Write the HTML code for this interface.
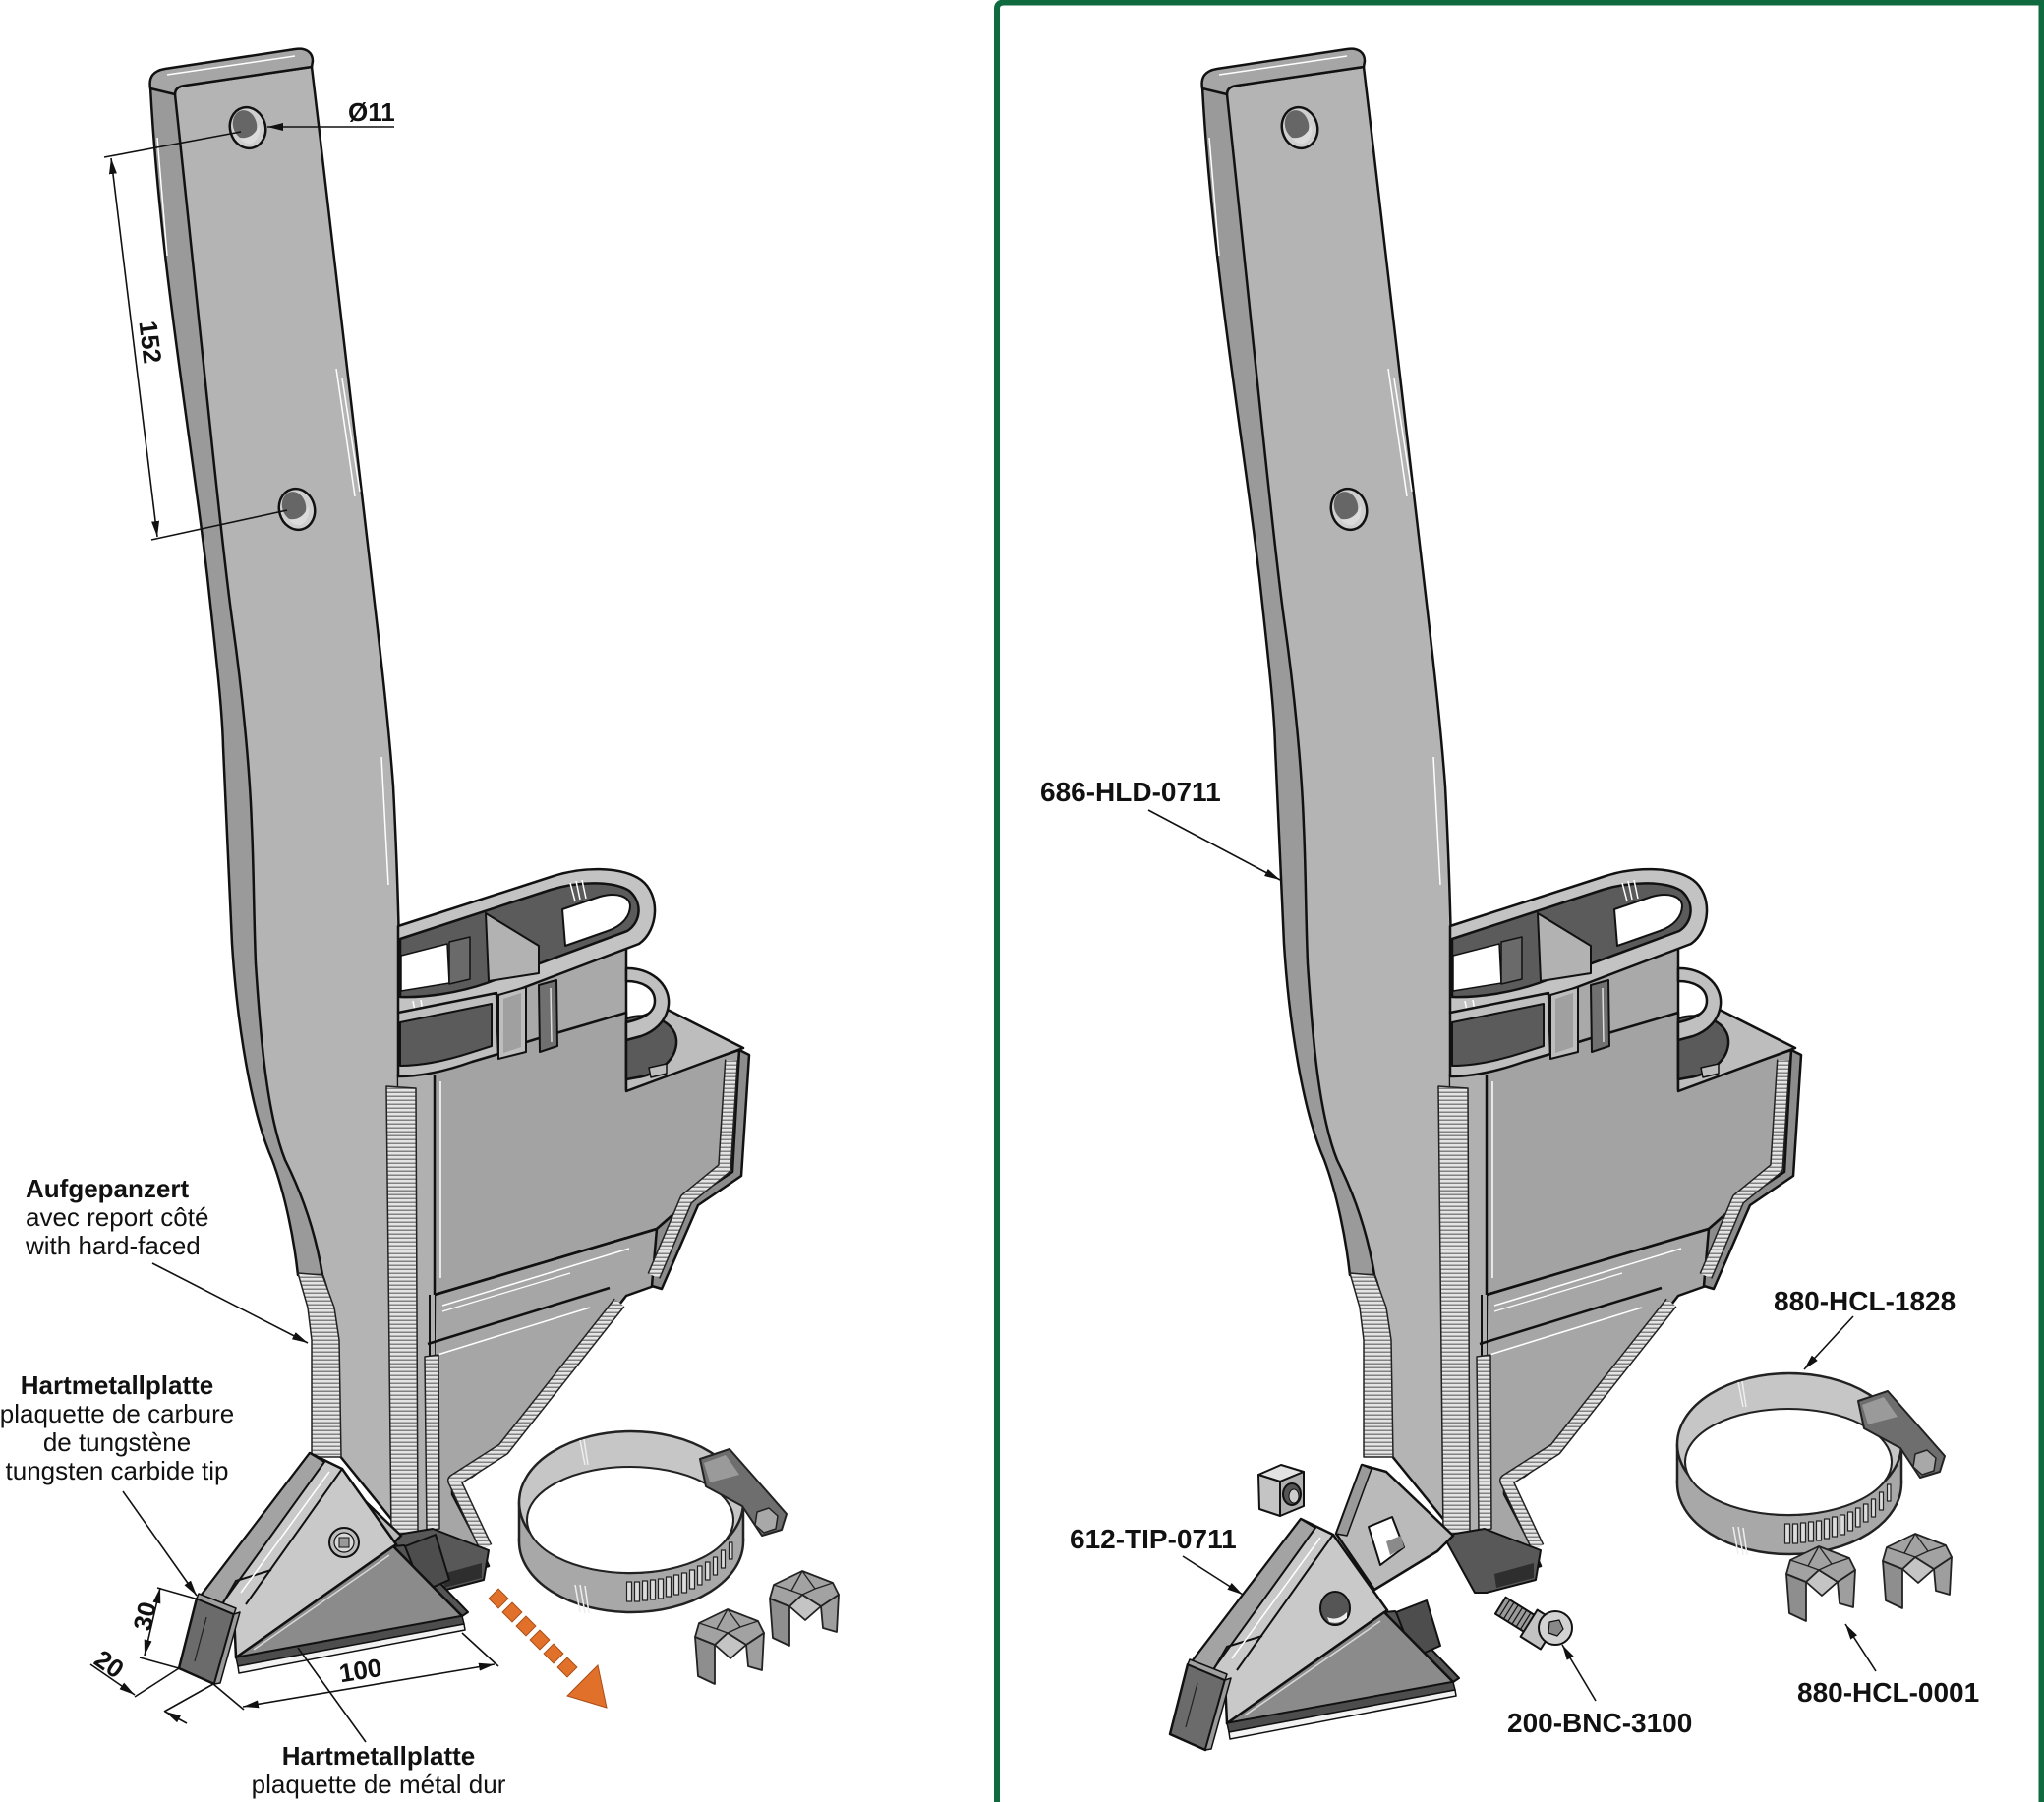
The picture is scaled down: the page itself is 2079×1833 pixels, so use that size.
<!DOCTYPE html>
<html><head><meta charset="utf-8"><title>Diagram</title>
<style>
html,body{margin:0;padding:0;background:#fff;}
svg{display:block;}
text{font-family:"Liberation Sans",Arial,sans-serif;fill:#111;}
.b{font-weight:bold;}
</style></head>
<body>
<svg xmlns="http://www.w3.org/2000/svg" width="2079" height="1833" viewBox="0 0 2079 1833">
<defs>
  <pattern id="wp" width="8" height="4" patternUnits="userSpaceOnUse">
    <rect width="8" height="4" fill="#e4e4e4"/>
    <rect y="2.6" width="8" height="1.2" fill="#6a6a6a"/>
  </pattern>
  <marker id="ar" markerUnits="userSpaceOnUse" markerWidth="16" markerHeight="8" viewBox="0 0 16 8" refX="16" refY="4" orient="auto-start-reverse">
    <path d="M0,0 L16,4 L0,8 Z" fill="#111"/>
  </marker>

  <!-- shank + hopper unit (left coordinates) -->
  <g id="unit" stroke-linejoin="round">
    <path d="M153,88 C162,260 195,450 211,587 C220,670 226,720 227,760 C231,840 233,900 236,960 C241,1040 255,1130 277,1180 C290,1215 299,1260 303,1297 L330,1297 L300,100 Z" fill="#9a9a9a" stroke="#111" stroke-width="2.5"/>
    <path d="M178,96 Q178,88 188,87 L317,68 L325,135 C335,220 347,320 371,528 C384,640 394,720 400,800 C404,880 405,920 407,1000 L410,1560 L345,1480 L343,1363 C338,1330 333,1310 328,1297 C322,1260 310,1220 290,1180 C270,1130 264,1040 260,980 C258,930 258,880 256,840 C254,780 246,700 236,630 C225,550 200,300 178,96 Z" fill="#b4b4b4" stroke="#111" stroke-width="2.5"/>
    <path d="M153,90 C151,78 156,72 168,70 L300,50 C312,48 318,54 318,62 L317,68 L188,87 C180,88 178,92 178,96 Z" fill="#a6a6a6" stroke="#111" stroke-width="2.5"/>
    <line x1="170" y1="76" x2="300" y2="57" stroke="#fff" stroke-width="1.5"/>
    <path d="M342,375 L361,505 M348,385 L366,500 M388,770 L395,900 M160,140 L170,260 M205,600 L215,700" stroke="#fff" stroke-width="1.5" fill="none"/>
    <ellipse cx="252" cy="130" rx="18" ry="21" transform="rotate(-15 252 130)" fill="#cfcfcf" stroke="#111" stroke-width="2.5"/>
    <ellipse cx="249" cy="127" rx="12" ry="15" transform="rotate(-15 249 127)" fill="#666"/>
    <path d="M244,140 Q258,142 264,126 Q266,140 256,146 Q248,147 244,140 Z" fill="#dcdcdc"/>
    <ellipse cx="302" cy="518" rx="18" ry="21" transform="rotate(-15 302 518)" fill="#cfcfcf" stroke="#111" stroke-width="2.5"/>
    <ellipse cx="299" cy="515" rx="12" ry="15" transform="rotate(-15 299 515)" fill="#666"/>
    <path d="M294,528 Q308,530 314,514 Q316,528 306,534 Q298,535 294,528 Z" fill="#dcdcdc"/>

    <!-- hopper -->
    <polygon points="455,1000 637,945 637,1040 455,1090" fill="#a9a9a9" stroke="#111" stroke-width="2.5"/>
    <polygon points="405,1093 480,1077 545,1057 637,1030 637,1108 752,1068 745,1192 700,1222 668,1250 442,1317 405,1320" fill="#a3a3a3" stroke="#111" stroke-width="2.5"/>
    <polygon points="442,1317 668,1250 668,1307 637,1318 513,1477 480,1502 460,1508 460,1520 490,1577 497,1593 460,1602 440,1602" fill="#a6a6a6" stroke="#111" stroke-width="2.5"/>
    <polygon points="405,1093 442,1093 442,1602 410,1560" fill="#b0b0b0"/>
    <line x1="442" y1="1093" x2="442" y2="1317" stroke="#111" stroke-width="2.5"/>
    <line x1="437" y1="1317" x2="437" y2="1380" stroke="#111" stroke-width="2"/>
    <line x1="448" y1="1100" x2="448" y2="1300" stroke="#fff" stroke-width="1.5"/>
    <line x1="442" y1="1317" x2="668" y2="1250" stroke="#111" stroke-width="2.5"/>
    <line x1="435" y1="1367" x2="620" y2="1310" stroke="#111" stroke-width="2.5"/>
    <line x1="450" y1="1328" x2="640" y2="1270" stroke="#fff" stroke-width="1.5"/>
    <line x1="450" y1="1334" x2="580" y2="1295" stroke="#fff" stroke-width="1.2"/>
    <line x1="445" y1="1378" x2="600" y2="1330" stroke="#fff" stroke-width="1.5"/>
    <polygon points="637,1040 675,1025 756,1066 637,1110" fill="#bdbdbd" stroke="#111" stroke-width="2.5"/>
    <path d="M637,1036 C662,1028 690,1040 688,1062 C686,1082 664,1094 648,1096 L637,1098 Z" fill="#5a5a5a" stroke="#111" stroke-width="2.5"/>
    <path d="M637,985 C660,984 682,1000 680,1022 C678,1040 664,1050 652,1054 L637,1058 L637,1040 C655,1036 666,1030 666,1018 C666,1004 652,998 637,998 Z" fill="#c0c0c0" stroke="#111" stroke-width="2.5"/>
    <polygon points="660,1086 678,1082 678,1092 662,1096" fill="#bdbdbd" stroke="#111" stroke-width="1.5"/>
    <polygon points="752,1068 762,1073 754,1196 710,1226 673,1311 663,1308 668,1250 700,1222 745,1192" fill="#8c8c8c" stroke="#111" stroke-width="2.5"/>
    <path d="M405,942 L560,892 C592,881 632,881 652,895 C672,910 670,946 650,960 L500,1017 C468,1028 432,1032 405,1030 Z" fill="#c3c3c3" stroke="#111" stroke-width="2.5"/>
    <path d="M407,955 L560,905 C590,896 624,896 640,906 C654,918 652,938 638,947 L495,1000 C466,1010 432,1015 407,1014 Z" fill="#5b5b5b" stroke="#111" stroke-width="2.5"/>
    <path d="M572,925 L610,912 C628,907 640,912 641,921 C641,933 632,942 618,947 L575,962 Z" fill="#fff" stroke="#111" stroke-width="2"/>
    <polygon points="408,972 455,960 457,1000 408,1008" fill="#fff" stroke="#111" stroke-width="1.5"/>
    <polygon points="457,958 478,953 478,996 457,1001" fill="#6a6a6a" stroke="#111" stroke-width="1.5"/>
    <polygon points="494,929 548,962 548,990 497,998" fill="#b2b2b2" stroke="#111" stroke-width="2"/>
    <path d="M580,898 L585,917 M586,896 L590,915 M592,895 L596,914 M420,1018 L422,1028 M428,1017 L430,1028" stroke="#fff" stroke-width="1.5"/>
    <path d="M405,1030 L505,1010 L507,1072 L480,1080 C452,1090 428,1095 405,1095 Z" fill="#bfbfbf" stroke="#111" stroke-width="2.5"/>
    <path d="M407,1040 L500,1021 L500,1064 L478,1071 C450,1080 428,1084 407,1084 Z" fill="#5b5b5b" stroke="#111" stroke-width="2"/>
    <polygon points="507,1012 535,1004 535,1070 507,1077" fill="#bdbdbd" stroke="#111" stroke-width="2"/>
    <polygon points="512,1016 530,1010 530,1065 512,1071" fill="#a0a0a0"/>
    <polygon points="548,1002 566,997 567,1064 549,1070" fill="#707070" stroke="#111" stroke-width="2"/>
    <line x1="560" y1="1005" x2="561" y2="1060" stroke="#ddd" stroke-width="1.5"/>

    <!-- welds -->
    <polygon points="303,1295 328,1297 340,1330 345,1363 347,1482 317,1482 317,1363 313,1330" fill="url(#wp)" stroke="#222" stroke-width="1.5"/>
    <polygon points="393,1105 423,1107 425,1558 398,1562" fill="url(#wp)" stroke="#222" stroke-width="1.5"/>
    <polygon points="432,1380 446,1378 447,1555 434,1558" fill="url(#wp)" stroke="#222" stroke-width="1.5"/>
    <polyline points="744,1078 737,1188 698,1220 665,1298" fill="none" stroke="#222" stroke-width="14" stroke-linejoin="round"/>
    <polyline points="744,1078 737,1188 698,1220 665,1298" fill="none" stroke="url(#wp)" stroke-width="11" stroke-linejoin="round"/>
    <polyline points="630,1325 512,1474 462,1506 494,1574" fill="none" stroke="#222" stroke-width="14" stroke-linejoin="round"/>
    <polyline points="630,1325 512,1474 462,1506 494,1574" fill="none" stroke="url(#wp)" stroke-width="11" stroke-linejoin="round"/>

    <polygon points="398,1562 440,1555 497,1577 492,1607 442,1620 430,1620" fill="#585858" stroke="#111" stroke-width="2"/>
    <polygon points="450,1601 490,1590 490,1605 452,1615" fill="#2e2e2e"/>
    <polygon points="315,1490 340,1497 408,1562 392,1578 328,1617 289,1560" fill="#bababa" stroke="#111" stroke-width="2.5"/>
    <polygon points="289,1560 315,1490 325,1494 300,1562" fill="#9a9a9a" stroke="#111" stroke-width="1.5"/>
    <polygon points="322,1553 346,1543 358,1574 334,1592" fill="#fff" stroke="#111" stroke-width="2"/>
    <polygon points="340,1568 355,1562 358,1574 344,1582" fill="#8a8a8a"/>
  </g>

  <!-- tip -->
  <g id="tip" stroke-linejoin="round">
    <polygon points="400,1573 411,1572 476,1640 470,1644" fill="#555" stroke="#111" stroke-width="2"/>
    <polygon points="315,1478 348,1494 403,1571 240,1686 238,1642 202,1626" fill="#c9c9c9" stroke="#111" stroke-width="2.5"/>
    <polygon points="315,1478 330,1487 224,1634 202,1626" fill="#a3a3a3" stroke="#111" stroke-width="2"/>
    <polyline points="226,1632 240,1608 276,1597" fill="none" stroke="#111" stroke-width="2"/>
    <line x1="348" y1="1494" x2="250" y2="1632" stroke="#111" stroke-width="2"/>
    <line x1="335" y1="1497" x2="245" y2="1620" stroke="#fff" stroke-width="1.5"/>
    <polygon points="412,1573 443,1561 457,1607 430,1619" fill="#4d4d4d" stroke="#111" stroke-width="2"/>
    <polygon points="240,1686 400,1573 470,1644" fill="#8b8b8b" stroke="#111" stroke-width="2.5"/>
    <line x1="258" y1="1678" x2="396" y2="1582" stroke="#d8d8d8" stroke-width="1.5"/>
    <polygon points="240,1686 470,1644 472,1652 242,1695" fill="#4d4d4d" stroke="#111" stroke-width="1.5"/>
    <polygon points="242,1695 472,1652 473,1658 243,1702" fill="#f2f2f2" stroke="#111" stroke-width="1.5"/>
    <polygon points="200,1626 238,1642 218,1713 182,1697" fill="#6b6b6b" stroke="#111" stroke-width="2.5"/>
    <polygon points="202,1621 240,1636 238,1642 200,1626" fill="#a0a0a0" stroke="#111" stroke-width="1.5"/>
    <polygon points="238,1642 244,1640 224,1712 218,1713" fill="#9a9a9a" stroke="#111" stroke-width="1.5"/>
    <line x1="210" y1="1645" x2="198" y2="1690" stroke="#222" stroke-width="1.2"/>
  </g>

  <!-- hose clamp -->
  <g id="clamp" stroke-linejoin="round">
    <ellipse cx="642" cy="1568" rx="114" ry="72" fill="#a8a8a8" stroke="#222" stroke-width="2.5"/>
    <rect x="528" y="1528" width="228" height="40" fill="#a8a8a8"/>
    <line x1="528" y1="1528" x2="528" y2="1568" stroke="#222" stroke-width="2.5"/>
    <line x1="756" y1="1528" x2="756" y2="1568" stroke="#222" stroke-width="2.5"/>
    <ellipse cx="642" cy="1528" rx="114" ry="72" fill="#c6c6c6" stroke="#222" stroke-width="2.5"/>
    <ellipse cx="641" cy="1546" rx="105" ry="54" fill="#fff" stroke="#222" stroke-width="2"/>
    <path d="M585,1612 L590,1640 M590,1612 L595,1641 M595,1613 L599,1641 M590,1465 L595,1490 M594,1464 L598,1490" stroke="#eee" stroke-width="1.5"/>
    <g fill="#dcdcdc" stroke="#222" stroke-width="1.2">
      <rect x="637.5" y="1609" width="5" height="20"/>
      <rect x="645.5" y="1609" width="5" height="20"/>
      <rect x="653.5" y="1608" width="5" height="20"/>
      <rect x="661.5" y="1607" width="5" height="20"/>
      <rect x="669.5" y="1606" width="5" height="20"/>
      <rect x="677.5" y="1604" width="5" height="20"/>
      <rect x="685.5" y="1602" width="5" height="20"/>
      <rect x="693.5" y="1600" width="5" height="20"/>
      <rect x="701.5" y="1597" width="5" height="19"/>
      <rect x="709.5" y="1593" width="4.5" height="19"/>
      <rect x="717.5" y="1589" width="4.5" height="18"/>
      <rect x="725.5" y="1584" width="4" height="18"/>
      <rect x="733.5" y="1577" width="4" height="18"/>
      <rect x="741.5" y="1569" width="3.5" height="17"/>
    </g>
    <polygon points="712,1484 742,1474 800,1540 795,1556 775,1562 755,1532 718,1512" fill="#6e6e6e" stroke="#222" stroke-width="2"/>
    <polygon points="716,1488 738,1480 752,1500 722,1508" fill="#9a9a9a"/>
    <polygon points="770,1538 782,1534 791,1542 789,1555 777,1559 768,1551" fill="#a8a8a8" stroke="#222" stroke-width="1.5"/>
  </g>

  <!-- clip -->
  <g id="clip" stroke="#222" stroke-width="1.8" stroke-linejoin="round">
    <polygon points="0,28 20,36 20,76 3,68" fill="#8e8e8e"/>
    <polygon points="52,36 70,24 68,62 54,58" fill="#9e9e9e"/>
    <polygon points="20,36 33,24 52,36 36,50" fill="#c4c4c4"/>
    <polygon points="0,28 4,14 33,0 64,12 70,24 52,36 33,24 20,36" fill="#a2a2a2"/>
    <polyline points="4,14 22,20 33,0 46,18 64,12" fill="none" stroke-width="1.3"/>
    <line x1="22" y1="20" x2="33" y2="24" stroke-width="1.3"/>
    <line x1="46" y1="18" x2="33" y2="24" stroke-width="1.3"/>
  </g>
</defs>

<path d="M1014,1833 L1014,9 Q1014,2.5 1021,2.5 L2076.5,2.5 L2076.5,1833" fill="none" stroke="#0f6b3f" stroke-width="6"/>

<!-- LEFT DRAWING -->
<use href="#unit"/>
<use href="#tip"/>
<circle cx="350" cy="1569" r="15" fill="#bdbdbd" stroke="#111" stroke-width="2"/>
<circle cx="350" cy="1569" r="10" fill="#d8d8d8" stroke="#111" stroke-width="1.2"/>
<polygon points="345,1564 355,1564 355,1574 345,1574" fill="#999" stroke="#111" stroke-width="1"/>
<use href="#clamp"/>
<use href="#clip" transform="translate(707,1637)"/>
<use href="#clip" transform="translate(783,1598)"/>

<!-- orange arrow -->
<g fill="#e0702a" stroke="#a84e15" stroke-width="1">
  <rect x="500" y="1619" width="14" height="14" transform="rotate(45 507 1626)"/>
  <rect x="514" y="1633" width="14" height="14" transform="rotate(45 521 1640)"/>
  <rect x="528" y="1647" width="14" height="14" transform="rotate(45 535 1654)"/>
  <rect x="542" y="1661" width="14" height="14" transform="rotate(45 549 1668)"/>
  <rect x="556" y="1675" width="14" height="14" transform="rotate(45 563 1682)"/>
  <rect x="570" y="1689" width="14" height="14" transform="rotate(45 577 1696)"/>
  <polygon points="608,1694 577,1725 617,1737"/>
</g>

<!-- dimensions left -->
<g stroke="#111" stroke-width="1.6" fill="none">
  <line x1="272" y1="129" x2="401" y2="129" marker-start="url(#ar)"/>
  <line x1="106" y1="160" x2="245" y2="134"/>
  <line x1="154" y1="549" x2="292" y2="519"/>
  <line x1="113" y1="161" x2="160" y2="546" marker-start="url(#ar)" marker-end="url(#ar)"/>
  <line x1="160" y1="1615" x2="202" y2="1627"/>
  <line x1="142" y1="1686" x2="182" y2="1697"/>
  <line x1="163" y1="1615" x2="147" y2="1684" marker-start="url(#ar)" marker-end="url(#ar)"/>
  <line x1="137" y1="1726" x2="182" y2="1697"/>
  <line x1="167" y1="1741" x2="217" y2="1713"/>
  <line x1="92" y1="1693" x2="137" y2="1724" marker-end="url(#ar)"/>
  <line x1="190" y1="1753" x2="168" y2="1741" marker-end="url(#ar)"/>
  <line x1="217" y1="1713" x2="248" y2="1739"/>
  <line x1="470" y1="1661" x2="507" y2="1695"/>
  <line x1="247" y1="1736" x2="503" y2="1693" marker-start="url(#ar)" marker-end="url(#ar)"/>
  <line x1="155" y1="1285" x2="313" y2="1366" marker-end="url(#ar)"/>
  <line x1="125" y1="1517" x2="200" y2="1623" marker-end="url(#ar)"/>
  <line x1="372" y1="1772" x2="303" y2="1676"/>
</g>

<text class="b" x="354" y="123" font-size="26">Ø11</text>
<text class="b" font-size="26" text-anchor="middle" transform="translate(144,349) rotate(83)" x="0" y="0">152</text>
<text class="b" font-size="26" text-anchor="middle" transform="translate(156,1646) rotate(-77)" x="0" y="0">30</text>
<text class="b" font-size="26" text-anchor="middle" transform="translate(106,1700) rotate(35)" x="0" y="0">20</text>
<text class="b" font-size="26" text-anchor="middle" transform="translate(368,1708) rotate(-9)" x="0" y="0">100</text>

<text class="b" x="26" y="1218" font-size="26">Aufgepanzert</text>
<text x="26" y="1247" font-size="26">avec report côté</text>
<text x="26" y="1276" font-size="26">with hard-faced</text>

<text class="b" x="119" y="1418" font-size="26" text-anchor="middle">Hartmetallplatte</text>
<text x="119" y="1447" font-size="26" text-anchor="middle">plaquette de carbure</text>
<text x="119" y="1476" font-size="26" text-anchor="middle">de tungstène</text>
<text x="119" y="1505" font-size="26" text-anchor="middle">tungsten carbide tip</text>

<text class="b" x="385" y="1795" font-size="26" text-anchor="middle">Hartmetallplatte</text>
<text x="385" y="1824" font-size="26" text-anchor="middle">plaquette de métal dur</text>

<!-- RIGHT DRAWING -->
<use href="#unit" transform="translate(1070,0)"/>
<use href="#tip" transform="translate(1008,67)"/>
<ellipse cx="1358" cy="1636" rx="15" ry="17" fill="#555" stroke="#111" stroke-width="2"/>
<path d="M1350,1645 Q1360,1650 1370,1640 L1370,1646 Q1362,1653 1352,1650 Z" fill="#eee"/>

<g stroke="#111" stroke-width="2" stroke-linejoin="round">
  <polygon points="1280,1500 1303,1490 1326,1497 1302,1507" fill="#e2e2e2"/>
  <polygon points="1280,1500 1302,1507 1302,1542 1281,1535" fill="#c4c4c4"/>
  <polygon points="1302,1507 1326,1497 1326,1532 1302,1542" fill="#b0b0b0"/>
  <ellipse cx="1314" cy="1520" rx="9" ry="11" fill="#555"/>
  <ellipse cx="1316" cy="1522" rx="5" ry="7" fill="#ccc" stroke-width="1"/>
</g>

<g stroke="#111" stroke-width="2" stroke-linejoin="round">
  <g transform="rotate(32 1550 1648)">
    <rect x="1522" y="1638" width="36" height="20" fill="#9a9a9a"/>
    <path d="M1527,1638 V1658 M1532,1638 V1658 M1537,1638 V1658 M1542,1638 V1658 M1547,1638 V1658 M1552,1638 V1658" stroke-width="1.2"/>
    <rect x="1556" y="1632" width="24" height="32" fill="#c2c2c2"/>
  </g>
  <circle cx="1582" cy="1656" r="17" fill="#d2d2d2"/>
  <polygon points="1576,1650 1586,1648 1590,1657 1584,1664 1575,1661" fill="#888" stroke-width="1.2"/>
</g>

<use href="#clamp" transform="translate(1178,-59)"/>
<use href="#clip" transform="translate(1817,1573)"/>
<use href="#clip" transform="translate(1915,1560)"/>

<g stroke="#111" stroke-width="1.6" fill="none">
  <line x1="1168" y1="824" x2="1302" y2="895" marker-end="url(#ar)"/>
  <line x1="1203" y1="1583" x2="1264" y2="1622" marker-end="url(#ar)"/>
  <line x1="1623" y1="1730" x2="1589" y2="1673" marker-end="url(#ar)"/>
  <line x1="1885" y1="1339" x2="1835" y2="1393" marker-end="url(#ar)"/>
  <line x1="1908" y1="1700" x2="1877" y2="1652" marker-end="url(#ar)"/>
</g>

<text class="b" x="1058" y="815" font-size="28">686-HLD-0711</text>
<text class="b" x="1088" y="1575" font-size="28">612-TIP-0711</text>
<text class="b" x="1533" y="1762" font-size="28">200-BNC-3100</text>
<text class="b" x="1804" y="1333" font-size="28">880-HCL-1828</text>
<text class="b" x="1828" y="1731" font-size="28">880-HCL-0001</text>
</svg>
</body></html>
